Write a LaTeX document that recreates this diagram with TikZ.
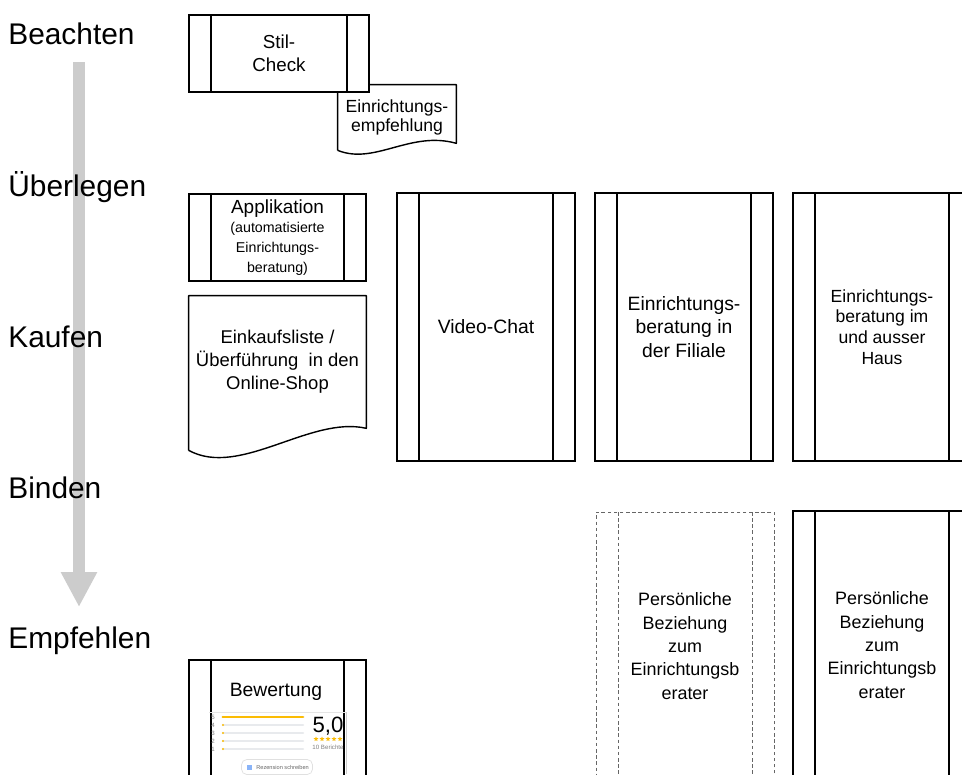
\documentclass[tikz,border=0pt]{standalone}
\usepackage{fontspec}
\setmainfont{Liberation Sans}
\usetikzlibrary{arrows.meta, shapes.geometric, calc}

\definecolor{rateyellow}{HTML}{FBBC04}
\definecolor{rategray}{HTML}{E8EAED}
\definecolor{rateblue}{HTML}{8AB4F8}

\begin{document}
\begin{tikzpicture}[x=0.02cm, y=-0.02cm,
  stage/.style={anchor=base west, inner sep=0pt, font=\fontsize{17}{20}\selectfont},
  flow/.style={draw=black!20, line width=0.24cm, -{Triangle[width=0.68cm, length=0.7cm]}},
  proc/.style={draw, fill=white, line width=0.8pt, align=center, inner sep=2pt,
    minimum width=3.56cm, minimum height=5.36cm,
    path picture={
      \draw[line width=0.8pt] ([xshift=0.44cm]path picture bounding box.north west) -- ([xshift=0.44cm]path picture bounding box.south west);
      \draw[line width=0.8pt] ([xshift=-0.44cm]path picture bounding box.north east) -- ([xshift=-0.44cm]path picture bounding box.south east);}},
  dproc/.style={draw=black!60, fill=white, line width=0.5pt, dash pattern=on 2pt off 1.5pt,
    align=center, inner sep=2pt, minimum width=3.56cm, minimum height=5.36cm,
    path picture={
      \draw[black!60, line width=0.5pt, dash pattern=on 2pt off 1.5pt] ([xshift=0.44cm]path picture bounding box.north west) -- ([xshift=0.44cm]path picture bounding box.south west);
      \draw[black!60, line width=0.5pt, dash pattern=on 2pt off 1.5pt] ([xshift=-0.44cm]path picture bounding box.north east) -- ([xshift=-0.44cm]path picture bounding box.south east);}},
  docu/.style={align=center, inner sep=0pt},
  docline/.style={line width=0.8pt, line join=round},
  tiny/.style={inner sep=0pt, text=black!50, font=\fontsize{3.5}{4}\selectfont}
]
  \useasboundingbox (0,0) rectangle (962,774);
  \clip (0,0) rectangle (962,774);
  \fill[white] (0,0) rectangle (962,774);

  % phase arrow and phases
  \coordinate (flowtop) at (79,62);
  \coordinate (flowend) at (79,607);
  \draw[flow] (flowtop) -- (flowend);

  \node[stage] (beachten)  at (8,44)  {Beachten};
  \node[stage] (ueberlegen) at (8,196) {Überlegen};
  \node[stage] (kaufen)    at (8,347) {Kaufen};
  \node[stage] (binden)    at (8,498) {Binden};
  \node[stage] (empfehlen) at (8,648) {Empfehlen};

  % Beachten
  \node[docu, minimum width=2.36cm, minimum height=1.3cm, font=\fontsize{10}{11.3}\selectfont]
    (empf) at (397,117.5) {Einrichtungs-\\empfehlung};
  \draw[docline] (empf.south west) -- (empf.north west) -- (empf.north east)
    -- ($(empf.south east)+(0,-7)$) .. controls +(-46,-13) and +(37,15) .. (empf.south west);
  \node[proc, minimum width=3.6cm, minimum height=1.54cm, font=\fontsize{10.7}{13}\selectfont]
    (stil) at (279,53.5) {Stil-\\Check};

  % Ueberlegen / Kaufen
  \node[proc, minimum width=3.54cm, minimum height=1.74cm, font=\fontsize{8.1}{11.3}\selectfont]
    (app) at (277.5,237.5) {{\fontsize{10.8}{11.3}\selectfont Applikation}\\(automatisierte\\Einrichtungs-\\beratung)};

  \node[docu, minimum width=3.54cm, minimum height=2.64cm, font=\fontsize{10.5}{13}\selectfont]
    (einkauf) at (277.5,362) {Einkaufsliste /\\Überführung~ in den\\Online-Shop};
  \draw[docline] ($(einkauf.south west)+(0,22)$) -- (einkauf.north west) -- (einkauf.north east)
    -- (einkauf.south east) .. controls +(-56,-13) and +(51,28) .. ($(einkauf.south west)+(0,22)$);

  \node[proc, font=\fontsize{11}{13}\selectfont] (video) at (486,327) {Video-Chat};
  \node[proc, font=\fontsize{11}{13.6}\selectfont] (filiale) at (684,327) {Einrichtungs-\\beratung in\\der Filiale};
  \node[proc, font=\fontsize{10}{11.8}\selectfont] (haus) at (882,327) {Einrichtungs-\\beratung im\\und ausser\\Haus};

  % Binden / Empfehlen
  \node[dproc, font=\fontsize{10.2}{13.3}\selectfont] (bezdash) at (685,646)
    {Persönliche\\Beziehung\\zum\\Einrichtungsb\\erater};
  \node[proc, font=\fontsize{10.2}{13.3}\selectfont] (bezsolid) at (882,645)
    {Persönliche\\Beziehung\\zum\\Einrichtungsb\\erater};

  % Bewertung with rating widget
  \node[proc, minimum width=3.54cm, minimum height=2.8cm] (bew) at (277.5,730) {};
  \node[inner sep=0pt, font=\fontsize{11}{13}\selectfont] (bewtitle) at (276,692) {Bewertung};

  \draw[black!10] (209,712) -- (346,712);
  \draw[black!20] (346,712) -- (346,774);
  \foreach \r/\yy in {5/717,4/725,3/733,2/741,1/749} {
    \node[tiny] (num\r) at (213,\yy) {\r};
    \draw[rategray, line width=1.4pt, line cap=round] (223,\yy) -- (303,\yy);
    \fill[rateyellow] (223,\yy) circle (1.2);
  }
  \draw[rateyellow, line width=1.6pt, line cap=round] (223,717) -- (303,717);
  \node[inner sep=0pt, font=\fontsize{12.6}{14}\selectfont] (score) at (328,726) {5,0};
  \foreach \sx in {316,322,328,334,340}
    \node[star, star points=5, star point ratio=2.2, fill=rateyellow, inner sep=0pt, minimum size=0.1cm] at (\sx,739) {};
  \node[tiny] (berichte) at (328,747) {10 Berichte};
  \node[draw=black!12, rounded corners=3pt, minimum width=1.42cm, minimum height=0.3cm, inner sep=0pt]
    (rezbtn) at (277,767) {};
  \fill[rateblue] (247,764.5) rectangle (252,769.5);
  \node[inner sep=0pt, text=black!60, font=\fontsize{3.2}{4}\selectfont, anchor=west] (reztext) at (256,767) {Rezension schreiben};
\end{tikzpicture}
\end{document}
